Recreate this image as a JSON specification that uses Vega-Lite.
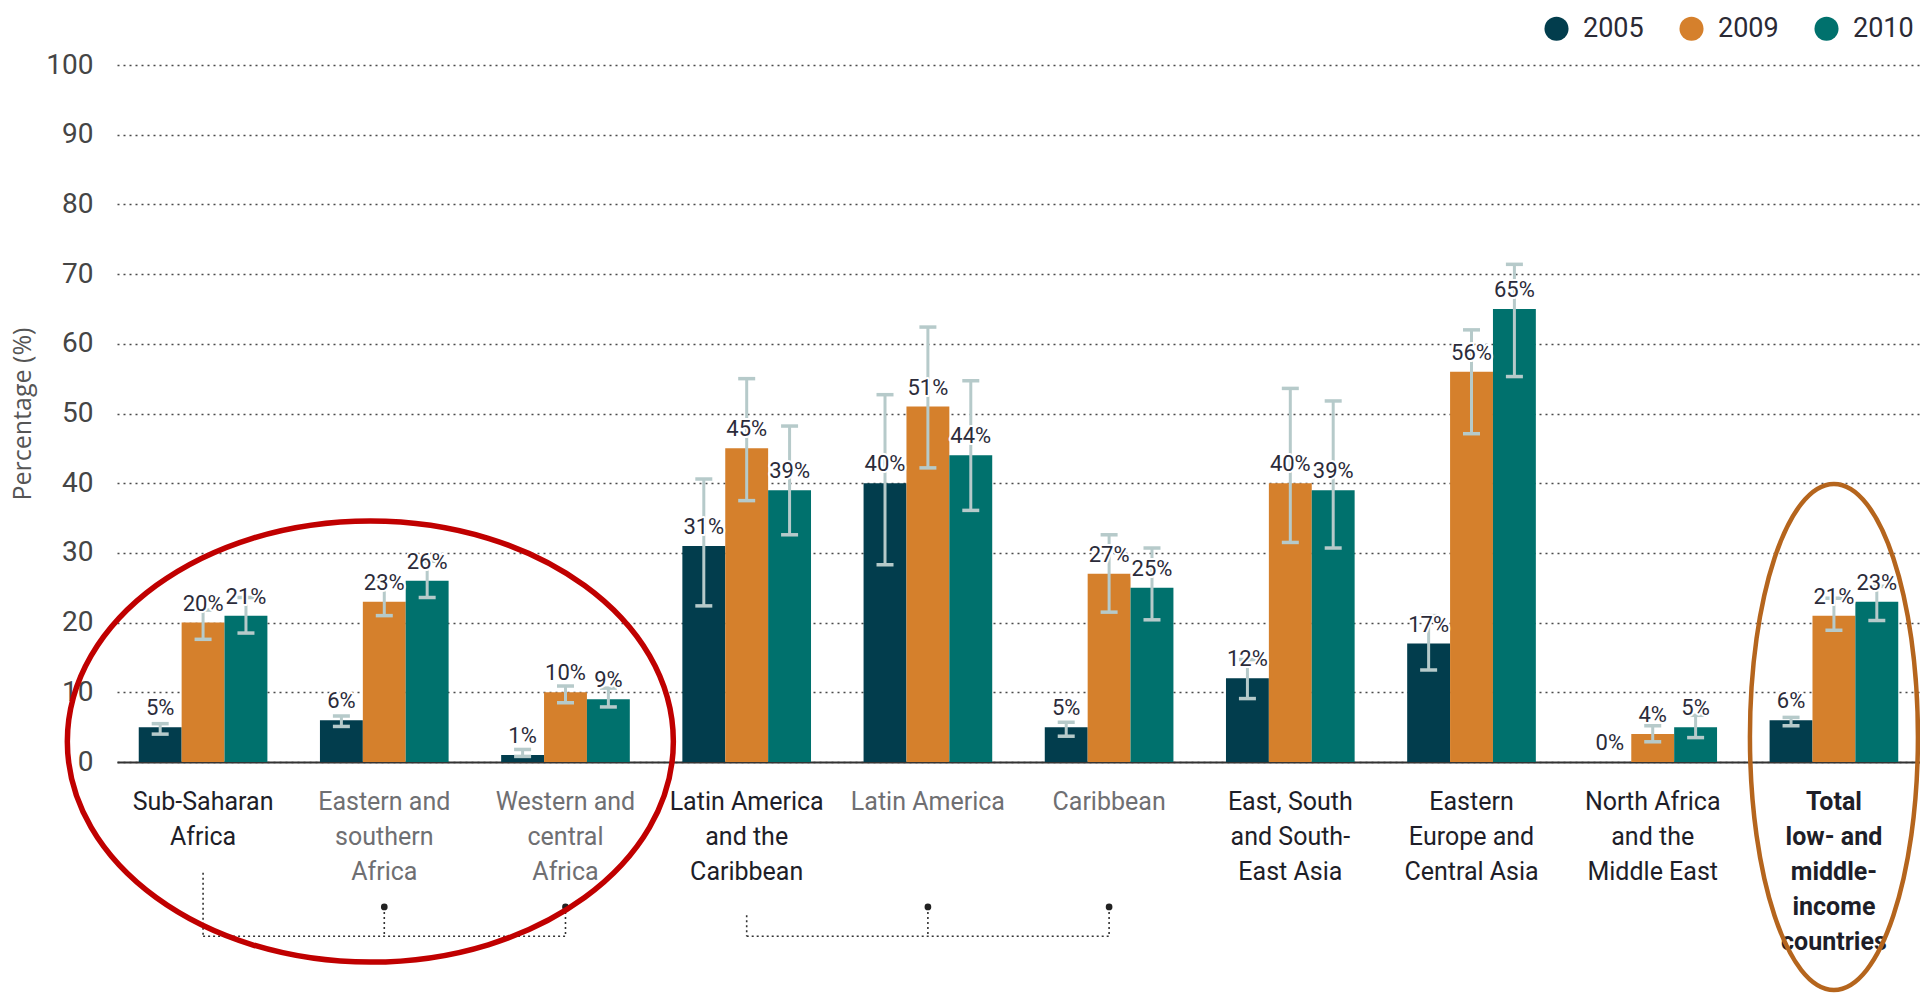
{
  "$schema": "https://vega.github.io/schema/vega-lite/v6.json",
  "width": 1803,
  "height": 697,
  "autosize": {"type": "none"},
  "padding": {"left": 117, "top": 65, "right": 0, "bottom": 232},
  "background": "white",
  "config": {
    "view": {"stroke": null},
    "font": "Roboto"
  },
  "datasets": {
    "rates": [
      {"region": "Sub-Saharan|Africa", "year": "2005", "value": 5, "lo": 4.0, "hi": 5.5},
      {"region": "Sub-Saharan|Africa", "year": "2009", "value": 20, "lo": 17.6, "hi": 21.8},
      {"region": "Sub-Saharan|Africa", "year": "2010", "value": 21, "lo": 18.5, "hi": 23.6},
      {"region": "Eastern and|southern|Africa", "year": "2005", "value": 6, "lo": 5.1, "hi": 6.6},
      {"region": "Eastern and|southern|Africa", "year": "2009", "value": 23, "lo": 21.0, "hi": 26.2},
      {"region": "Eastern and|southern|Africa", "year": "2010", "value": 26, "lo": 23.6, "hi": 28.8},
      {"region": "Western and|central|Africa", "year": "2005", "value": 1, "lo": 0.8, "hi": 1.8},
      {"region": "Western and|central|Africa", "year": "2009", "value": 10, "lo": 8.5, "hi": 10.9},
      {"region": "Western and|central|Africa", "year": "2010", "value": 9, "lo": 7.9, "hi": 10.6},
      {"region": "Latin America|and the|Caribbean", "year": "2005", "value": 31, "lo": 22.4, "hi": 40.6},
      {"region": "Latin America|and the|Caribbean", "year": "2009", "value": 45, "lo": 37.5, "hi": 55.0},
      {"region": "Latin America|and the|Caribbean", "year": "2010", "value": 39, "lo": 32.6, "hi": 48.2},
      {"region": "Latin America", "year": "2005", "value": 40, "lo": 28.3, "hi": 52.7},
      {"region": "Latin America", "year": "2009", "value": 51, "lo": 42.2, "hi": 62.4},
      {"region": "Latin America", "year": "2010", "value": 44, "lo": 36.1, "hi": 54.7},
      {"region": "Caribbean", "year": "2005", "value": 5, "lo": 3.7, "hi": 5.7},
      {"region": "Caribbean", "year": "2009", "value": 27, "lo": 21.5, "hi": 32.6},
      {"region": "Caribbean", "year": "2010", "value": 25, "lo": 20.4, "hi": 30.7},
      {"region": "East, South|and South-|East Asia", "year": "2005", "value": 12, "lo": 9.1, "hi": 14.7},
      {"region": "East, South|and South-|East Asia", "year": "2009", "value": 40, "lo": 31.5, "hi": 53.6},
      {"region": "East, South|and South-|East Asia", "year": "2010", "value": 39, "lo": 30.7, "hi": 51.8},
      {"region": "Eastern|Europe and|Central Asia", "year": "2005", "value": 17, "lo": 13.2, "hi": 21.0},
      {"region": "Eastern|Europe and|Central Asia", "year": "2009", "value": 56, "lo": 47.1, "hi": 62.0},
      {"region": "Eastern|Europe and|Central Asia", "year": "2010", "value": 65, "lo": 55.3, "hi": 71.4},
      {"region": "North Africa|and the|Middle East", "year": "2005", "value": 0},
      {"region": "North Africa|and the|Middle East", "year": "2009", "value": 4, "lo": 2.9, "hi": 5.2},
      {"region": "North Africa|and the|Middle East", "year": "2010", "value": 5, "lo": 3.5, "hi": 6.7},
      {"region": "Total|low- and|middle-|income|countries", "year": "2005", "value": 6, "lo": 5.2, "hi": 6.4},
      {"region": "Total|low- and|middle-|income|countries", "year": "2009", "value": 21, "lo": 18.9, "hi": 23.5},
      {"region": "Total|low- and|middle-|income|countries", "year": "2010", "value": 23, "lo": 20.3, "hi": 25.2}
    ],
    "bracketStems": [
      {"region": "Sub-Saharan|Africa", "top": -15.9, "bottom": -25.0},
      {"region": "Eastern and|southern|Africa", "top": -20.8, "bottom": -25.0},
      {"region": "Western and|central|Africa", "top": -20.8, "bottom": -25.0},
      {"region": "Latin America|and the|Caribbean", "top": -22.0, "bottom": -25.0},
      {"region": "Latin America", "top": -20.8, "bottom": -25.0},
      {"region": "Caribbean", "top": -20.8, "bottom": -25.0}
    ],
    "bracketBars": [
      {"region": "Sub-Saharan|Africa", "regionEnd": "Western and|central|Africa", "level": -25.0},
      {"region": "Latin America|and the|Caribbean", "regionEnd": "Caribbean", "level": -25.0}
    ],
    "bracketDots": [
      {"region": "Eastern and|southern|Africa", "level": -20.8},
      {"region": "Western and|central|Africa", "level": -20.8},
      {"region": "Latin America", "level": -20.8},
      {"region": "Caribbean", "level": -20.8}
    ],
    "africaHighlight": [
      {"region": "Eastern and|southern|Africa", "level": 2.94}
    ],
    "totalHighlight": [
      {"region": "Total|low- and|middle-|income|countries", "level": 3.6}
    ]
  },
  "layer": [
    {
      "data": {"name": "rates"},
      "mark": {"type": "bar"},
      "encoding": {
        "x": {
          "field": "region",
          "type": "nominal",
          "sort": null,
          "title": null,
          "scale": {
            "domain": [
              "Sub-Saharan|Africa",
              "Eastern and|southern|Africa",
              "Western and|central|Africa",
              "Latin America|and the|Caribbean",
              "Latin America",
              "Caribbean",
              "East, South|and South-|East Asia",
              "Eastern|Europe and|Central Asia",
              "North Africa|and the|Middle East",
              "Total|low- and|middle-|income|countries"
            ],
            "paddingInner": 0.29,
            "paddingOuter": 0.12
          },
          "axis": {
            "orient": "bottom",
            "domain": true,
            "domainColor": "#333333",
            "domainWidth": 2,
            "ticks": false,
            "tickSize": 0,
            "grid": false,
            "labelAngle": 0,
            "labelAlign": "center",
            "labelBaseline": "top",
            "labelPadding": 27,
            "labelFont": "Roboto",
            "labelFontSize": 25,
            "labelLineHeight": 35,
            "labelLimit": 0,
            "labelOverlap": false,
            "labelBound": false,
            "labelExpr": "split(datum.value, '|')",
            "labelColor": {
              "condition": {
                "test": "indexof(['Eastern and|southern|Africa', 'Western and|central|Africa', 'Latin America', 'Caribbean'], datum.value) >= 0",
                "value": "#6f6f72"
              },
              "value": "#1e1e28"
            },
            "labelFontWeight": {
              "condition": {
                "test": "datum.value === 'Total|low- and|middle-|income|countries'",
                "value": "bold"
              },
              "value": "normal"
            }
          }
        },
        "xOffset": {
          "field": "year",
          "type": "nominal",
          "scale": {"domain": ["2005", "2009", "2010"], "paddingInner": 0, "paddingOuter": 0}
        },
        "y": {
          "field": "value",
          "type": "quantitative",
          "scale": {"domain": [0, 100], "nice": false},
          "axis": {
            "values": [0, 10, 20, 30, 40, 50, 60, 70, 80, 90, 100],
            "domain": false,
            "ticks": false,
            "tickSize": 0,
            "grid": true,
            "gridDash": [2, 4],
            "gridColor": "#4a4a4a",
            "gridWidth": 1.3,
            "labelFont": "Roboto",
            "labelFontSize": 28,
            "labelColor": "#454545",
            "labelPadding": 24,
            "title": "Percentage (%)",
            "titleFont": "Open Sans",
            "titleFontSize": 25,
            "titleFontWeight": "normal",
            "titleColor": "#555555",
            "titlePadding": 10
          }
        },
        "color": {
          "field": "year",
          "type": "nominal",
          "scale": {"domain": ["2005", "2009", "2010"], "range": ["#023d4d", "#d5802c", "#00716d"]},
          "legend": {
            "orient": "none",
            "direction": "horizontal",
            "legendX": 1426,
            "legendY": -50,
            "title": null,
            "padding": 0,
            "symbolType": "circle",
            "symbolSize": 580,
            "symbolStrokeWidth": 0,
            "symbolOpacity": 1,
            "labelFont": "Roboto",
            "labelFontSize": 27,
            "labelColor": "#2a2a35",
            "labelOffset": 13,
            "labelLimit": 0,
            "columnPadding": 34
          }
        }
      }
    },
    {
      "data": {"name": "rates"},
      "mark": {"type": "rule", "color": "#b6caca", "strokeWidth": 3},
      "encoding": {
        "x": {"field": "region", "type": "nominal"},
        "xOffset": {"field": "year", "type": "nominal"},
        "y": {"field": "lo", "type": "quantitative"},
        "y2": {"field": "hi"}
      }
    },
    {
      "data": {"name": "rates"},
      "mark": {"type": "tick", "color": "#b6caca", "size": 17, "thickness": 3.5, "opacity": 1},
      "encoding": {
        "x": {"field": "region", "type": "nominal"},
        "xOffset": {"field": "year", "type": "nominal"},
        "y": {"field": "lo", "type": "quantitative"}
      }
    },
    {
      "data": {"name": "rates"},
      "mark": {"type": "tick", "color": "#b6caca", "size": 17, "thickness": 3.5, "opacity": 1},
      "encoding": {
        "x": {"field": "region", "type": "nominal"},
        "xOffset": {"field": "year", "type": "nominal"},
        "y": {"field": "hi", "type": "quantitative"}
      }
    },
    {
      "data": {"name": "rates"},
      "transform": [{"calculate": "format(datum.value, 'd') + '%'", "as": "label"}],
      "mark": {
        "type": "text",
        "baseline": "alphabetic",
        "dy": -12,
        "font": "Roboto",
        "fontSize": 22,
        "stroke": "white",
        "strokeWidth": 4,
        "strokeJoin": "round",
        "fill": "white"
      },
      "encoding": {
        "x": {"field": "region", "type": "nominal"},
        "xOffset": {"field": "year", "type": "nominal"},
        "y": {"field": "value", "type": "quantitative"},
        "text": {"field": "label"}
      }
    },
    {
      "data": {"name": "rates"},
      "transform": [{"calculate": "format(datum.value, 'd') + '%'", "as": "label"}],
      "mark": {
        "type": "text",
        "baseline": "alphabetic",
        "dy": -12,
        "font": "Roboto",
        "fontSize": 22,
        "color": "#2b2b3a"
      },
      "encoding": {
        "x": {"field": "region", "type": "nominal"},
        "xOffset": {"field": "year", "type": "nominal"},
        "y": {"field": "value", "type": "quantitative"},
        "text": {"field": "label"}
      }
    },
    {
      "data": {"name": "bracketStems"},
      "mark": {"type": "rule", "color": "#333333", "strokeWidth": 1.6, "strokeDash": [2, 3]},
      "encoding": {
        "x": {"field": "region", "type": "nominal"},
        "y": {"field": "top", "type": "quantitative"},
        "y2": {"field": "bottom"}
      }
    },
    {
      "data": {"name": "bracketBars"},
      "mark": {"type": "rule", "color": "#333333", "strokeWidth": 1.6, "strokeDash": [2, 3]},
      "encoding": {
        "x": {"field": "region", "type": "nominal"},
        "x2": {"field": "regionEnd"},
        "y": {"field": "level", "type": "quantitative"}
      }
    },
    {
      "data": {"name": "bracketDots"},
      "mark": {"type": "point", "filled": true, "color": "#222222", "size": 45, "opacity": 1},
      "encoding": {
        "x": {"field": "region", "type": "nominal"},
        "y": {"field": "level", "type": "quantitative"}
      }
    },
    {
      "data": {"name": "africaHighlight"},
      "mark": {
        "type": "point",
        "filled": false,
        "stroke": "#c00000",
        "strokeWidth": 5.5,
        "opacity": 1,
        "size": 367236,
        "shape": "M -1.046 0 C -1.046 -0.402 -0.598 -0.728 -0.046 -0.728 C 0.506 -0.728 0.954 -0.402 0.954 0 C 0.954 0.402 0.506 0.728 -0.046 0.728 C -0.598 0.728 -1.046 0.402 -1.046 0 Z"
      },
      "encoding": {
        "x": {"field": "region", "type": "nominal"},
        "y": {"field": "level", "type": "quantitative"}
      }
    },
    {
      "data": {"name": "totalHighlight"},
      "mark": {
        "type": "point",
        "filled": false,
        "stroke": "#b5651d",
        "strokeWidth": 4.5,
        "opacity": 1,
        "size": 256036,
        "shape": "M -0.332 0 C -0.332 -0.552 -0.183 -1 0 -1 C 0.183 -1 0.332 -0.552 0.332 0 C 0.332 0.552 0.183 1 0 1 C -0.183 1 -0.332 0.552 -0.332 0 Z"
      },
      "encoding": {
        "x": {"field": "region", "type": "nominal"},
        "y": {"field": "level", "type": "quantitative"}
      }
    }
  ]
}
